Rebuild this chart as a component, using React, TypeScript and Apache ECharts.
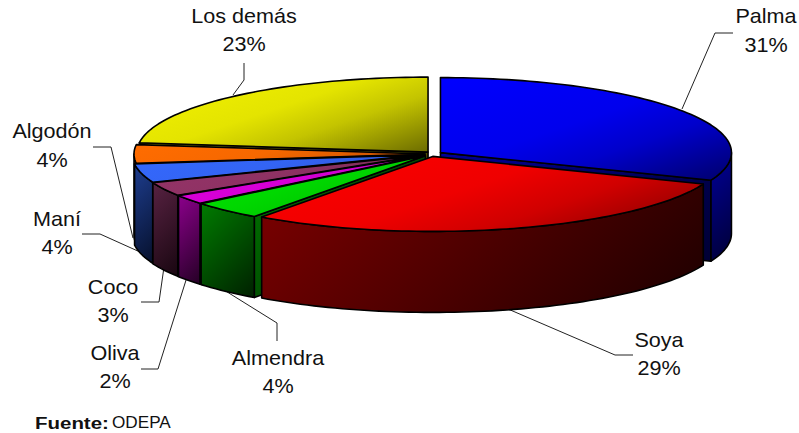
import React, { useEffect, useRef } from "react";
import * as echarts from "echarts";

const categories = ["Palma", "Soya", "Almendra", "Oliva", "Coco", "Maní", "Algodón", "Los demás"];
const shares = [31, 29, 4, 2, 3, 4, 4, 23];
const paintOrder = [7, 0, 6, 5, 4, 3, 2, 1];
const sliceShiftX = [2, -0.8, 0.5, 0.5, 0.5, 1, 3, 3];
const topColors = [
  ["#0000FF", "#00006A"], ["#FF0000", "#7A0000"], ["#00E000", "#00A000"], ["#DC00DC", "#A800A8"],
  ["#963468", "#5A2646"], ["#3468FC", "#2848B8"], ["#FF6C00", "#B04800"], ["#F4F400", "#6C6C00"],
];
const wallColors = [
  ["#00009A", "#000034"], ["#7C0000", "#1C0000"], ["#007C00", "#002000"], ["#8C008C", "#240024"],
  ["#582242", "#180610"], ["#1E3E90", "#06102C"], ["#A04000", "#602000"], ["#808000", "#404000"],
];
const labelCenters = [[766, 16, 45], [659, 340, 368], [278, 358, 386], [115, 353, 381], [113, 287, 315], [57, 219, 247], [52, 131, 160], [244, 16, 44]];
const leaders = [
  [[733, 33], [715, 33], [682, 109]],
  [[633, 355], [615, 355], [508, 309]],
  [[277, 341], [277, 323], [224, 290]],
  [[141, 369], [158, 369], [187, 277]],
  [[141, 302], [159, 302], [164, 267]],
  [[82, 234], [100, 234], [140, 252]],
  [[93, 147], [111, 147], [133, 238]],
  [[244, 63], [244, 80], [233, 95]],
];

const CX = 431, CY = 154, RX = 291, RY = 75, DEPTH = 81, EXPLODE = 9, EXPLODE_Y = 2.5;
const RAD = Math.PI / 180;

function mix(a: string, b: string, t: number) {
  const ch = (s: string, i: number) => parseInt(s.slice(1 + i * 2, 3 + i * 2), 16);
  const v = [0, 1, 2].map((i) => Math.round(ch(a, i) + (ch(b, i) - ch(a, i)) * t));
  return `rgb(${v.join(",")})`;
}

// gradient in page pixels along (dx, dy), spanning the bounding box of pts
function pixelGrad(pts: number[][], c: string[], dx: number, dy: number, curved: boolean) {
  const xs = pts.map((p) => p[0]), ys = pts.map((p) => p[1]);
  const x0 = Math.min(...xs), y0 = Math.min(...ys);
  const w = Math.max(...xs) - x0, h = Math.max(...ys) - y0;
  const len2 = dx * dx + dy * dy;
  const k = (dx * w + dy * h) / len2;
  const stops = curved
    ? [
        { offset: 0, color: c[0] },
        { offset: 0.45, color: mix(c[0], c[1], 0.12) },
        { offset: 0.66, color: mix(c[0], c[1], 0.35) },
        { offset: 1, color: c[1] },
      ]
    : [
        { offset: 0, color: c[0] },
        { offset: 1, color: c[1] },
      ];
  return new echarts.graphic.LinearGradient(x0, y0, x0 + dx * k, y0 + dy * k, stops, true);
}

export default function App() {
  const ref = useRef<HTMLDivElement>(null);
  useEffect(() => {
    const chart = echarts.init(ref.current!, undefined, { renderer: "svg" });
    const total = shares.reduce((a, b) => a + b, 0);
    const starts: number[] = [];
    let acc = 0;
    shares.forEach((v) => { starts.push(acc); acc += v; });

    const renderItem = (params: any, api: any) => {
      const idx = api.value(1);
      const order = params.dataIndex;
      const a0 = (starts[idx] / total) * 360;
      const a1 = a0 + (api.value(0) / total) * 360;
      const mid = ((a0 + a1) / 2) * RAD;
      const ox = CX + EXPLODE * Math.sin(mid) + sliceShiftX[idx];
      const oy = CY - EXPLODE_Y * Math.cos(mid);
      const rim = (a: number, dy = 0) => [ox + RX * Math.sin(a * RAD), oy - RY * Math.cos(a * RAD) + dy];
      const arc = (from: number, to: number, dy = 0) => {
        const pts: number[][] = [];
        const n = Math.max(2, Math.ceil(Math.abs(to - from) / 1.5));
        for (let i = 0; i <= n; i++) pts.push(rim(from + ((to - from) * i) / n, dy));
        return pts;
      };
      const stroke = { stroke: "#000", lineWidth: 1.6, lineJoin: "round" };
      const children: any[] = [];
      let z = order * 10;
      const face = (a: number) => {
        const p = rim(a);
        const pts = [[ox, oy], p, [p[0], p[1] + DEPTH], [ox, oy + DEPTH]];
        children.push({
          type: "polygon", z2: z++,
          shape: { points: pts },
          style: { fill: pixelGrad(pts, wallColors[idx], 1, 1, false), ...stroke },
        });
      };
      if (Math.sin(a0 * RAD) < 0) face(a0);
      if (Math.sin(a1 * RAD) > 0) face(a1);
      const w0 = Math.max(a0, 90), w1 = Math.min(a1, 270);
      if (w1 > w0) {
        const pts = [...arc(w0, w1), ...arc(w1, w0, DEPTH)];
        children.push({
          type: "polygon", z2: z++,
          shape: { points: pts },
          style: { fill: pixelGrad(pts, wallColors[idx], 1, 1, false), ...stroke },
        });
      }
      const top = [[ox, oy], ...arc(a0, a1)];
      children.push({
        type: "polygon", z2: z++,
        shape: { points: top },
        style: { fill: pixelGrad(top, topColors[idx], 1, 3, true), ...stroke },
      });
      return { type: "group", children };
    };

    const labelFont = '20px "Liberation Sans", Arial, sans-serif';
    const texts: any[] = [];
    categories.forEach((name, i) => {
      const [x, y1, y2] = labelCenters[i];
      [[name, y1], [`${shares[i]}%`, y2]].forEach(([t, y]) => {
        texts.push({
          type: "text", x, y, scaleX: 1.08,
          style: { text: t, font: labelFont, fill: "#111", align: "center", verticalAlign: "middle" },
        });
      });
    });
    const lines = leaders.map((pts) => ({
      type: "polyline",
      shape: { points: pts },
      style: { stroke: "#222", lineWidth: 1, fill: "none" },
    }));

    chart.setOption({
      animation: false,
      backgroundColor: "#fff",
      series: [{
        type: "custom",
        coordinateSystem: "none",
        silent: true,
        renderItem,
        data: paintOrder.map((i) => [shares[i], i]),
      }],
      graphic: [
        ...lines,
        ...texts,
        {
          type: "text", x: 35, y: 423, scaleX: 1.28,
          style: { text: "Fuente:", font: 'bold 16px "Liberation Sans", Arial, sans-serif', fill: "#111", align: "left", verticalAlign: "middle" },
        },
        {
          type: "text", x: 112, y: 423, scaleX: 1.01,
          style: { text: "ODEPA", font: '17px "Liberation Sans", Arial, sans-serif', fill: "#111", align: "left", verticalAlign: "middle" },
        },
      ],
    });
    return () => chart.dispose();
  }, []);
  return <div ref={ref} style={{ position: "absolute", left: 0, top: 0, width: 799, height: 433 }} />;
}
